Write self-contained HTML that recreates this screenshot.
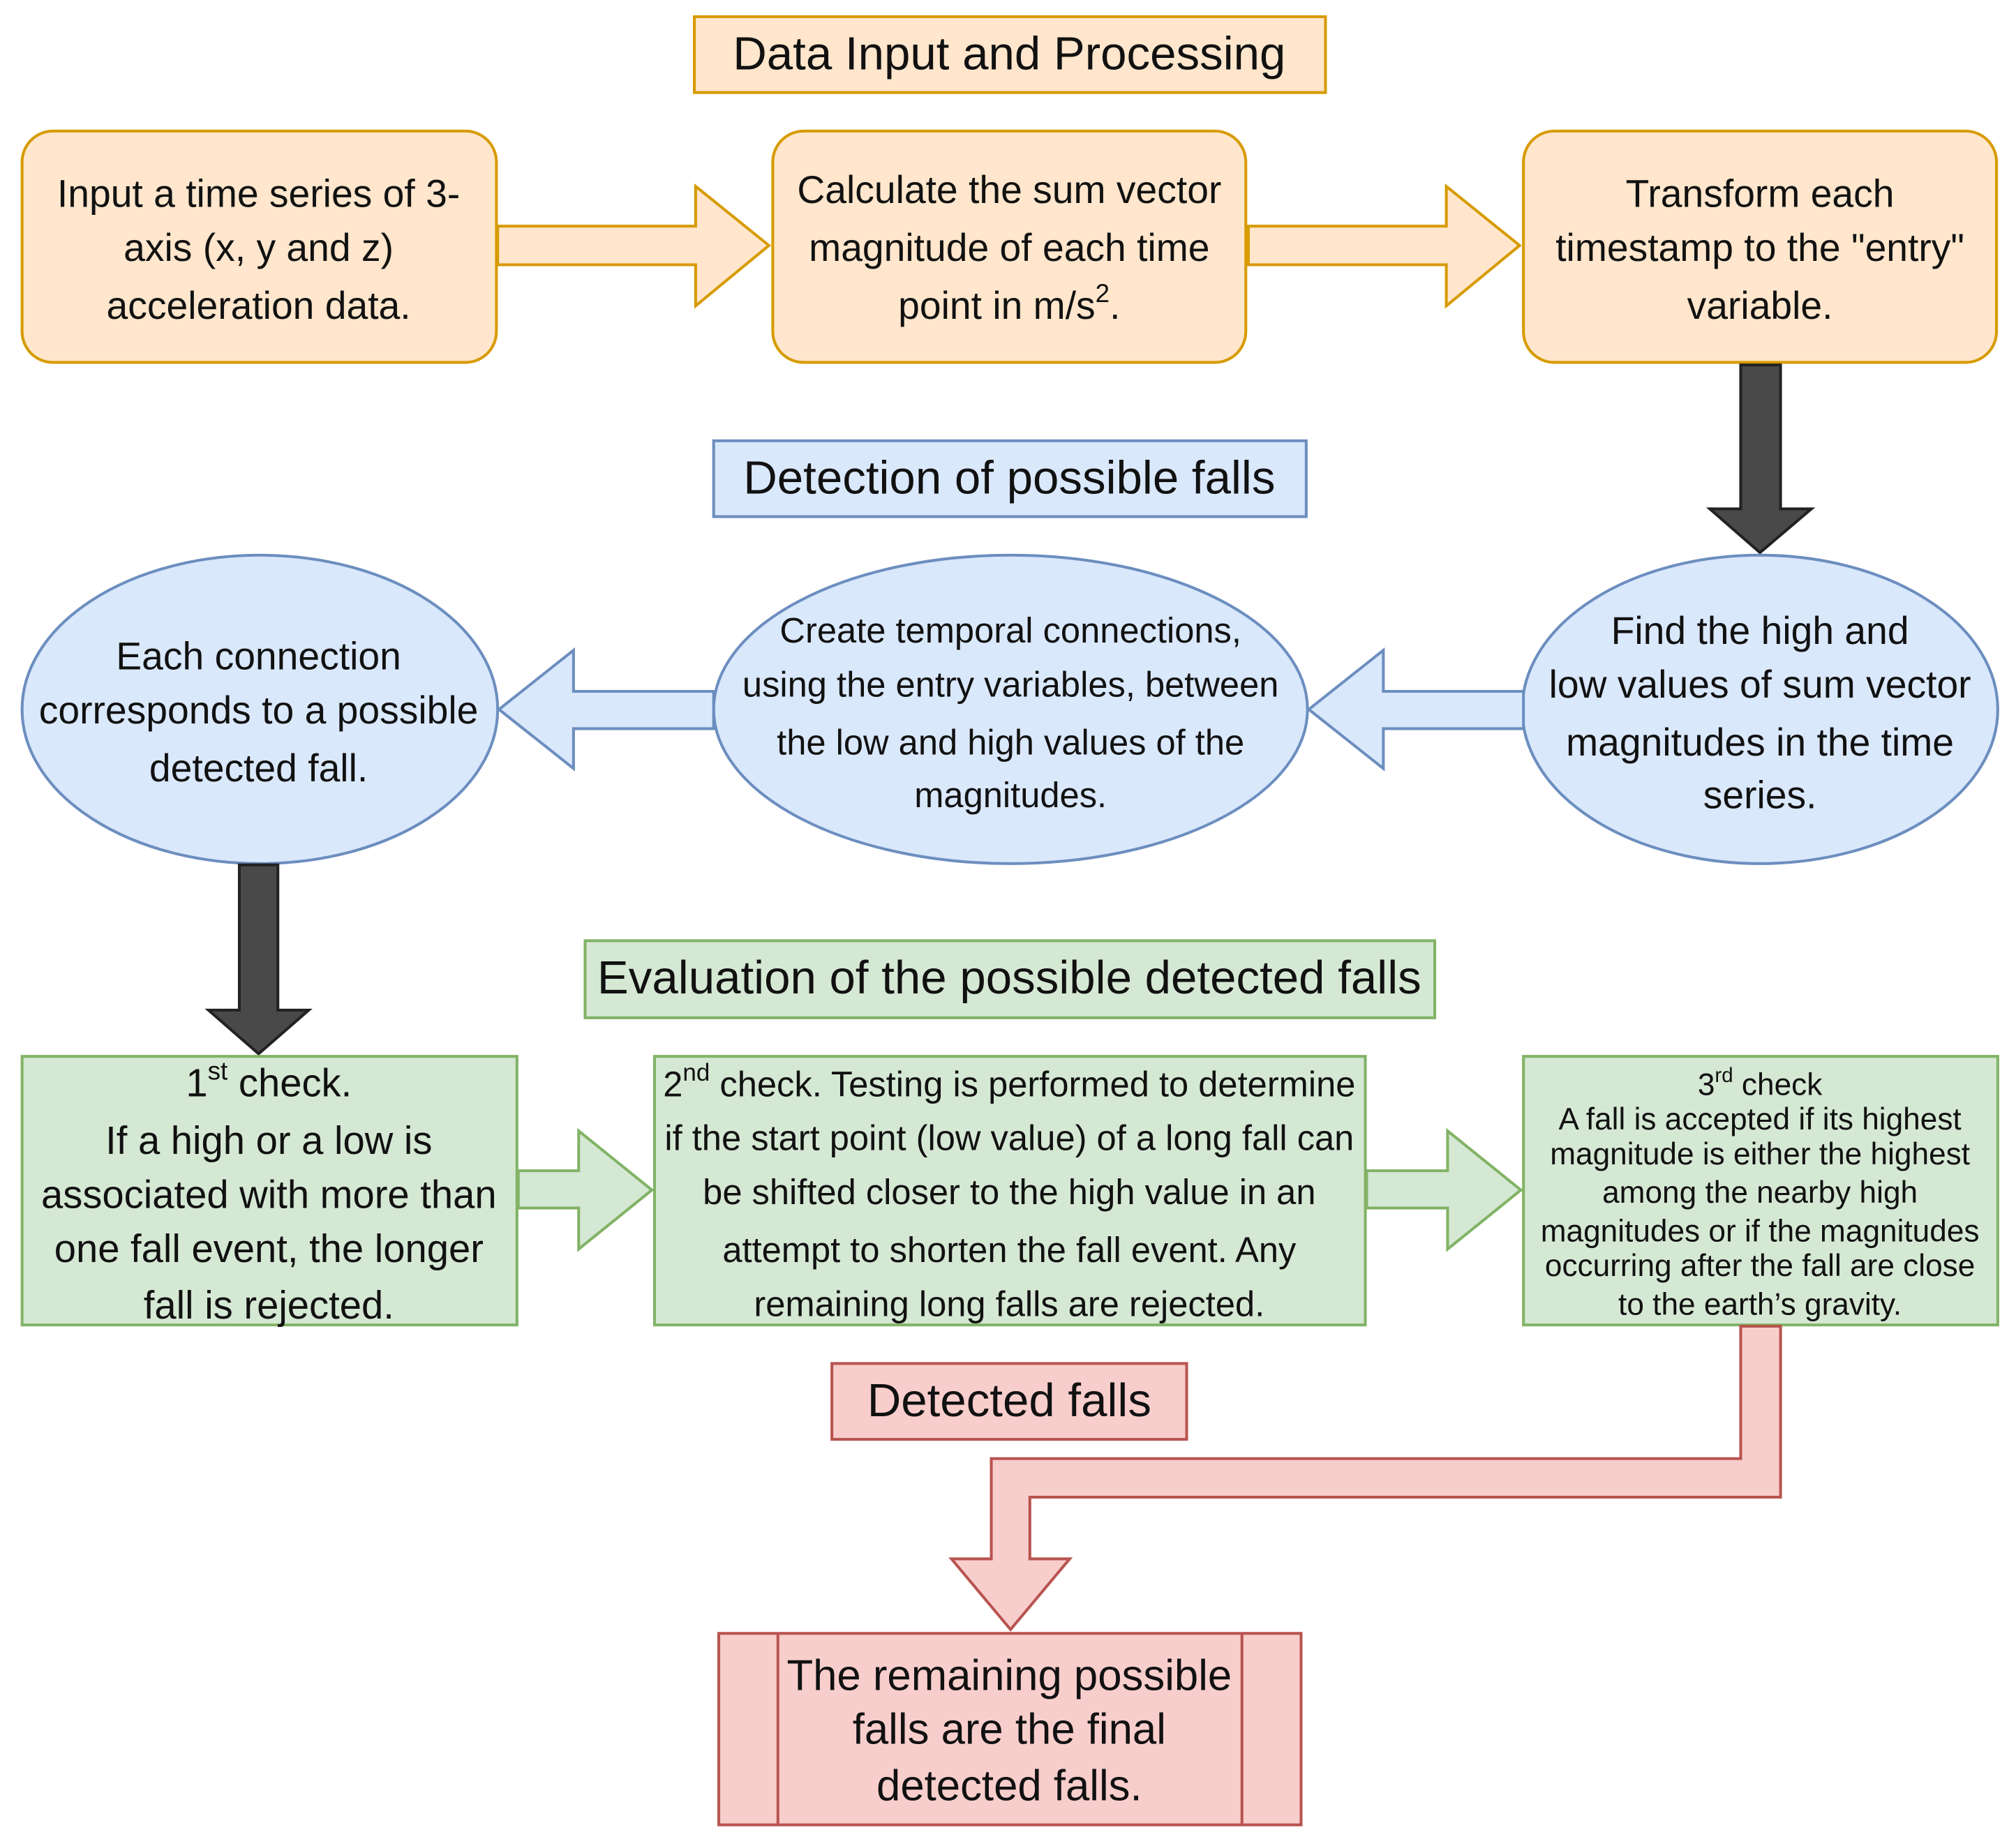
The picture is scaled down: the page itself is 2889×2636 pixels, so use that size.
<!DOCTYPE html>
<html><head><meta charset="utf-8"><style>html,body{margin:0;padding:0;background:#fff}svg{display:block}text{font-family:"Liberation Sans",Arial,sans-serif;fill:#111}</style></head><body>
<svg width="2889" height="2636" viewBox="0 0 1568 1431" xmlns="http://www.w3.org/2000/svg">
<rect width="1568" height="1431" fill="#fff"/>
<g stroke-width="2.2">
<rect x="540" y="13" width="491" height="59" fill="#ffe6cc" stroke="#d79b00"/>
<rect x="17" y="102" width="369" height="180" rx="24" fill="#ffe6cc" stroke="#d79b00"/>
<rect x="601" y="102" width="368" height="180" rx="24" fill="#ffe6cc" stroke="#d79b00"/>
<rect x="1185" y="102" width="368" height="180" rx="24" fill="#ffe6cc" stroke="#d79b00"/>
<path d="M387,176 L541,176 L541,145 L598,191 L541,238 L541,206 L387,206 Z" fill="#ffe6cc" stroke="#d79b00"/>
<path d="M971,176 L1125,176 L1125,145 L1182,191 L1125,238 L1125,206 L971,206 Z" fill="#ffe6cc" stroke="#d79b00"/>
<path d="M1354,284 L1385,284 L1385,396 L1409,396 L1369,430 L1330,396 L1354,396 Z" fill="#494949" stroke="#222"/>
<rect x="555" y="343" width="461" height="59" fill="#dae8fc" stroke="#6c8ebf"/>
<ellipse cx="202" cy="552" rx="185" ry="120" fill="#dae8fc" stroke="#6c8ebf"/>
<ellipse cx="786" cy="552" rx="231" ry="120" fill="#dae8fc" stroke="#6c8ebf"/>
<ellipse cx="1369" cy="552" rx="185" ry="120" fill="#dae8fc" stroke="#6c8ebf"/>
<path d="M1185,538 L1076,538 L1076,506 L1018,552 L1076,598 L1076,567 L1185,567 Z" fill="#dae8fc" stroke="#6c8ebf"/>
<path d="M555,538 L446,538 L446,506 L388,552 L446,598 L446,567 L555,567 Z" fill="#dae8fc" stroke="#6c8ebf"/>
<path d="M186,673 L216,673 L216,786 L240,786 L201,820 L162,786 L186,786 Z" fill="#494949" stroke="#222"/>
<rect x="455" y="732" width="661" height="60" fill="#d5e8d4" stroke="#82b366"/>
<rect x="17" y="822" width="385" height="209" fill="#d5e8d4" stroke="#82b366"/>
<rect x="509" y="822" width="553" height="209" fill="#d5e8d4" stroke="#82b366"/>
<rect x="1185" y="822" width="369" height="209" fill="#d5e8d4" stroke="#82b366"/>
<path d="M403,911 L450,911 L450,880 L507,926 L450,972 L450,940 L403,940 Z" fill="#d5e8d4" stroke="#82b366"/>
<path d="M1063,911 L1126,911 L1126,880 L1183,926 L1126,972 L1126,940 L1063,940 Z" fill="#d5e8d4" stroke="#82b366"/>
<rect x="647" y="1061" width="276" height="59" fill="#f8cecc" stroke="#b85450"/>
<path d="M1354,1032 L1385,1032 L1385,1165 L801,1165 L801,1213 L832,1213 L786,1268 L740,1213 L771,1213 L771,1135 L1354,1135 Z" fill="#f8cecc" stroke="#b85450"/>
<rect x="559" y="1271" width="453" height="149" fill="#f8cecc" stroke="#b85450"/>
<line x1="605" y1="1271" x2="605" y2="1420" stroke="#b85450"/>
<line x1="966" y1="1271" x2="966" y2="1420" stroke="#b85450"/>
</g>
<g text-anchor="middle">
<g font-size="36.5">
<text x="785" y="54">Data Input and Processing</text>
<text x="785" y="384">Detection of possible falls</text>
<text x="785" y="773">Evaluation of the possible detected falls</text>
<text x="785" y="1102">Detected falls</text>
</g>
<g font-size="30">
<text x="201" y="161">Input a time series of 3-</text>
<text x="201" y="203">axis (x, y and z)</text>
<text x="201" y="248">acceleration data.</text>
<text x="785" y="158">Calculate the sum vector</text>
<text x="785" y="203">magnitude of each time</text>
<text x="785" y="248">point in m/s<tspan font-size="20" dy="-13">2</tspan><tspan dy="13">.</tspan></text>
<text x="1369" y="161">Transform each</text>
<text x="1369" y="203">timestamp to the "entry"</text>
<text x="1369" y="248">variable.</text>
<text x="201" y="521">Each connection</text>
<text x="201" y="563">corresponds to a possible</text>
<text x="201" y="608">detected fall.</text>
<text x="1369" y="501">Find the high and</text>
<text x="1369" y="543">low values of sum vector</text>
<text x="1369" y="588">magnitudes in the time</text>
<text x="1369" y="629">series.</text>
</g>
<g font-size="27.5">
<text x="786" y="500">Create temporal connections,</text>
<text x="786" y="542">using the entry variables, between</text>
<text x="786" y="587">the low and high values of the</text>
<text x="786" y="628">magnitudes.</text>
</g>
<g font-size="30.5">
<text x="209" y="853">1<tspan font-size="20" dy="-13">st</tspan><tspan dy="13"> check.</tspan></text>
<text x="209" y="898">If a high or a low is</text>
<text x="209" y="940">associated with more than</text>
<text x="209" y="982">one fall event, the  longer</text>
<text x="209" y="1026">fall is rejected.</text>
</g>
<g font-size="27.5">
<text x="785" y="853">2<tspan font-size="19" dy="-12">nd</tspan><tspan dy="12"> check. Testing is performed to determine</tspan></text>
<text x="785" y="895">if the start point (low value) of a long fall can</text>
<text x="785" y="937">be shifted closer to the high value in an</text>
<text x="785" y="982">attempt to shorten the fall event. Any</text>
<text x="785" y="1024">remaining long falls are rejected.</text>
</g>
<g font-size="24">
<text x="1369" y="852">3<tspan font-size="16" dy="-10">rd</tspan><tspan dy="10"> check</tspan></text>
<text x="1369" y="879">A fall is accepted if its highest</text>
<text x="1369" y="906">magnitude is either the highest</text>
<text x="1369" y="936">among the nearby high</text>
<text x="1369" y="966">magnitudes or if the magnitudes</text>
<text x="1369" y="993">occurring after the fall are close</text>
<text x="1369" y="1023">to the earth’s gravity.</text>
</g>
<g font-size="33.5">
<text x="785" y="1315">The remaining possible</text>
<text x="785" y="1357">falls are the final</text>
<text x="785" y="1401">detected falls.</text>
</g>
</g>
</svg>
</body></html>
